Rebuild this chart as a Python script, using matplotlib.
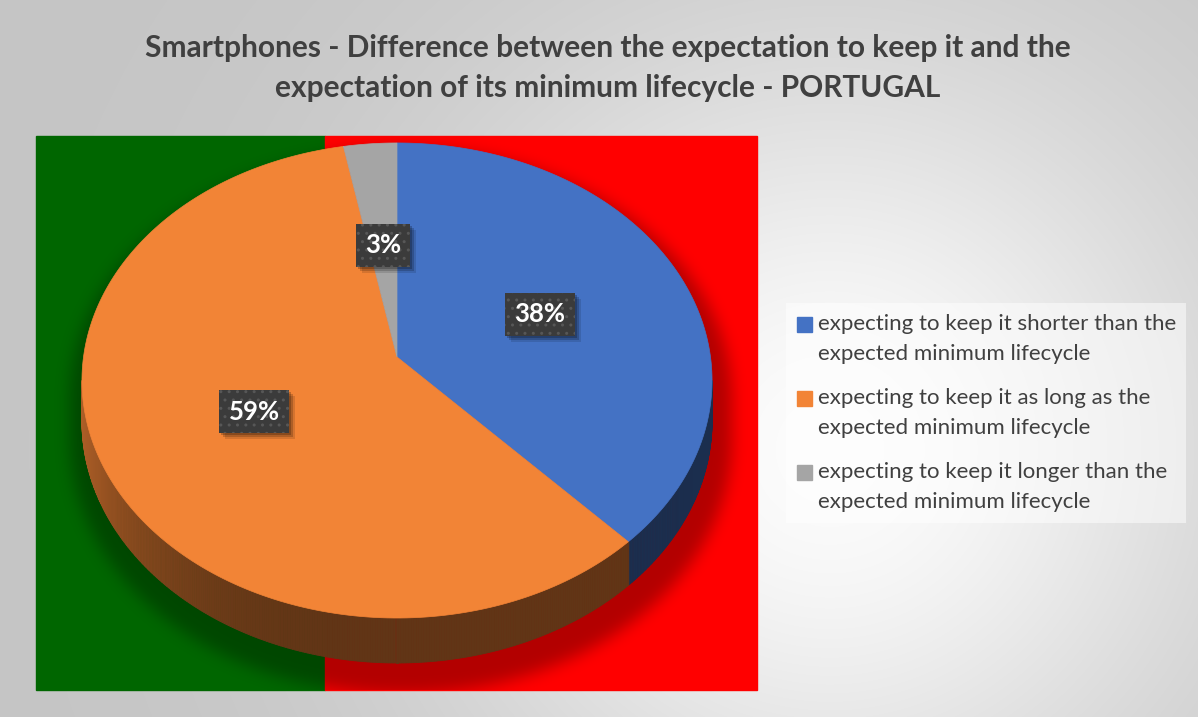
import numpy as np
import matplotlib.pyplot as plt
from matplotlib.colors import to_rgb
from matplotlib.path import Path
from matplotlib.patches import Polygon, Rectangle
from matplotlib.collections import PolyCollection

plt.rcParams['font.family'] = ['Lato', 'DejaVu Sans']

W, H = 1198, 717

title_lines = ["Smartphones - Difference between the expectation to keep it and the",
               "expectation of its minimum lifecycle - PORTUGAL"]
categories = ["expecting to keep it shorter than the\nexpected minimum lifecycle",
              "expecting to keep it as long as the\nexpected minimum lifecycle",
              "expecting to keep it longer than the\nexpected minimum lifecycle"]
shares = [38, 59, 3]
top_colors = ['#4472C4', '#F28436', '#A5A5A5']

# pie geometry in pixel space (perspective tilted disc)
cx, cy = 397, 357
A, B, k, depth = 313.5, 235.2, 0.0989, 40.5


def proj(theta, r=1.0, z=0.0):
    X = r * np.sin(theta)
    Y = r * np.cos(theta)
    den = 1 + k * Y
    return cx + A * X / den, cy - B * Y / den + z * depth / den


fig = plt.figure(figsize=(W / 100, H / 100), dpi=100)
ax = fig.add_axes([0, 0, 1, 1])
ax.set_xlim(0, W)
ax.set_ylim(H, 0)
ax.axis('off')

# radial grey background
gx, gy = np.meshgrid(np.arange(W) + 0.5, np.arange(H) + 0.5)
rr = np.hypot(gx - 830, gy - 450)
val = (197 + 55 * np.exp(-(rr / 400) ** 2)) / 255
ax.imshow(np.dstack([val, val, val]), extent=(0, W, H, 0), zorder=0)

# flag-coloured plot area
px0, px1, px2, py0, py1 = 36, 325, 757, 136, 690
ax.add_patch(Rectangle((px0, py0), px1 - px0, py1 - py0, color='#006600', zorder=1))
ax.add_patch(Rectangle((px1, py0), px2 - px1, py1 - py0, color='#FF0000', zorder=1))

# slice boundaries, clockwise from 12 o'clock
bounds = np.concatenate([[0], np.cumsum(shares)]) / sum(shares) * 2 * np.pi
t_side = np.arccos(-k)  # where the rim silhouette turns

# soft shadow under the pie
th = np.linspace(-t_side, t_side, 200)
tb = np.linspace(t_side, 2 * np.pi - t_side, 200)
sx = np.concatenate([proj(th)[0], proj(tb, z=1)[0]])
sy = np.concatenate([proj(th)[1], proj(tb, z=1)[1]])
sx = cx + (sx - cx) * 1.05 + 4
sy = cy + (sy - cy) * 1.05 + 16
mask = Path(np.column_stack([sx, sy])).contains_points(
    np.column_stack([gx.ravel(), gy.ravel()])).reshape(H, W).astype(float)


def box_blur(a, r, axis):
    pad = [(0, 0), (0, 0)]
    pad[axis] = (r + 1, r)
    c = np.pad(a, pad).cumsum(axis=axis)
    n = 2 * r + 1
    if axis == 0:
        return (c[n:] - c[:-n]) / n
    return (c[:, n:] - c[:, :-n]) / n


for _ in range(3):
    mask = box_blur(box_blur(mask, 7, 0), 7, 1)
inside = (gx > px0) & (gx < px2) & (gy > py0) & (gy < py1)
shadow = np.zeros((H, W, 4))
shadow[..., 3] = 0.3 * mask * inside
ax.imshow(shadow, extent=(0, W, H, 0), zorder=2)

# side wall of the pie
ts = np.linspace(t_side, 2 * np.pi - t_side, 400)
quads, qcols = [], []
for a0, a1 in zip(ts[:-1], ts[1:]):
    mid = 0.5 * (a0 + a1)
    idx = np.searchsorted(bounds, mid) - 1
    x0, y0 = proj(a0)
    x1, y1 = proj(a1)
    x2, y2 = proj(a1, z=1)
    x3, y3 = proj(a0, z=1)
    quads.append([(x0, y0), (x1, y1), (x2, y2), (x3, y3)])
    f = 0.40 + 0.32 * max(0.0, -np.sin(mid)) ** 3
    qcols.append(np.array(to_rgb(top_colors[idx])) * f)
ax.add_collection(PolyCollection(quads, facecolors=qcols, edgecolors=qcols,
                                 linewidths=0.6, zorder=3))

# top faces
for i, c in enumerate(top_colors):
    t = np.linspace(bounds[i], bounds[i + 1], 200)
    ex, ey = proj(t)
    pts = np.column_stack([np.r_[cx, ex], np.r_[cy, ey]])
    ax.add_patch(Polygon(pts, closed=True, facecolor=c, edgecolor=c,
                         linewidth=0.5, zorder=4))

# percentage labels at half radius along each slice's mid angle
box = dict(boxstyle='square,pad=0.36', facecolor='#3b3b3b', edgecolor='#575757',
           linewidth=0, hatch='..')
pct_texts = []
for i, s in enumerate(shares):
    mid = 0.5 * (bounds[i] + bounds[i + 1])
    lx, ly = proj(mid, r=0.5)
    pct_texts.append(ax.text(lx, ly, f"{s}%", ha='center', va='center',
                             fontsize=18.5, weight='bold', color='white',
                             bbox=box, zorder=6))

# title
for j, line in enumerate(title_lines):
    ax.text(608, 48 + 40 * j, line, ha='center', va='center', fontsize=21.5,
            weight='bold', color='#404040', zorder=6)

# legend
ax.add_patch(Rectangle((786, 303), 400, 220, facecolor='white', alpha=0.5,
                       edgecolor='none', zorder=5))
for i, lab in enumerate(categories):
    yy = 324.5 + 74 * i
    ax.add_patch(Rectangle((797, yy - 7.5), 15, 15, color=top_colors[i], zorder=6))
    for j, part in enumerate(lab.split('\n')):
        ax.text(818, yy + 29 * j, part, ha='left', va='center', fontsize=16,
                color='#404040', zorder=6)

# drop shadows behind the label boxes
fig.canvas.draw()
inv = ax.transData.inverted()
for t in pct_texts:
    bb = t.get_bbox_patch().get_window_extent()
    (xa, ya), (xb, yb) = inv.transform([[bb.x0, bb.y0], [bb.x1, bb.y1]])
    for off, al in [(6, 0.12), (4, 0.18), (2, 0.22)]:
        ax.add_patch(Rectangle((min(xa, xb) + off, min(ya, yb) + off),
                               abs(xb - xa), abs(yb - ya), facecolor='black',
                               edgecolor='none', alpha=al, zorder=5))

fig.savefig('out.png', dpi=100)
